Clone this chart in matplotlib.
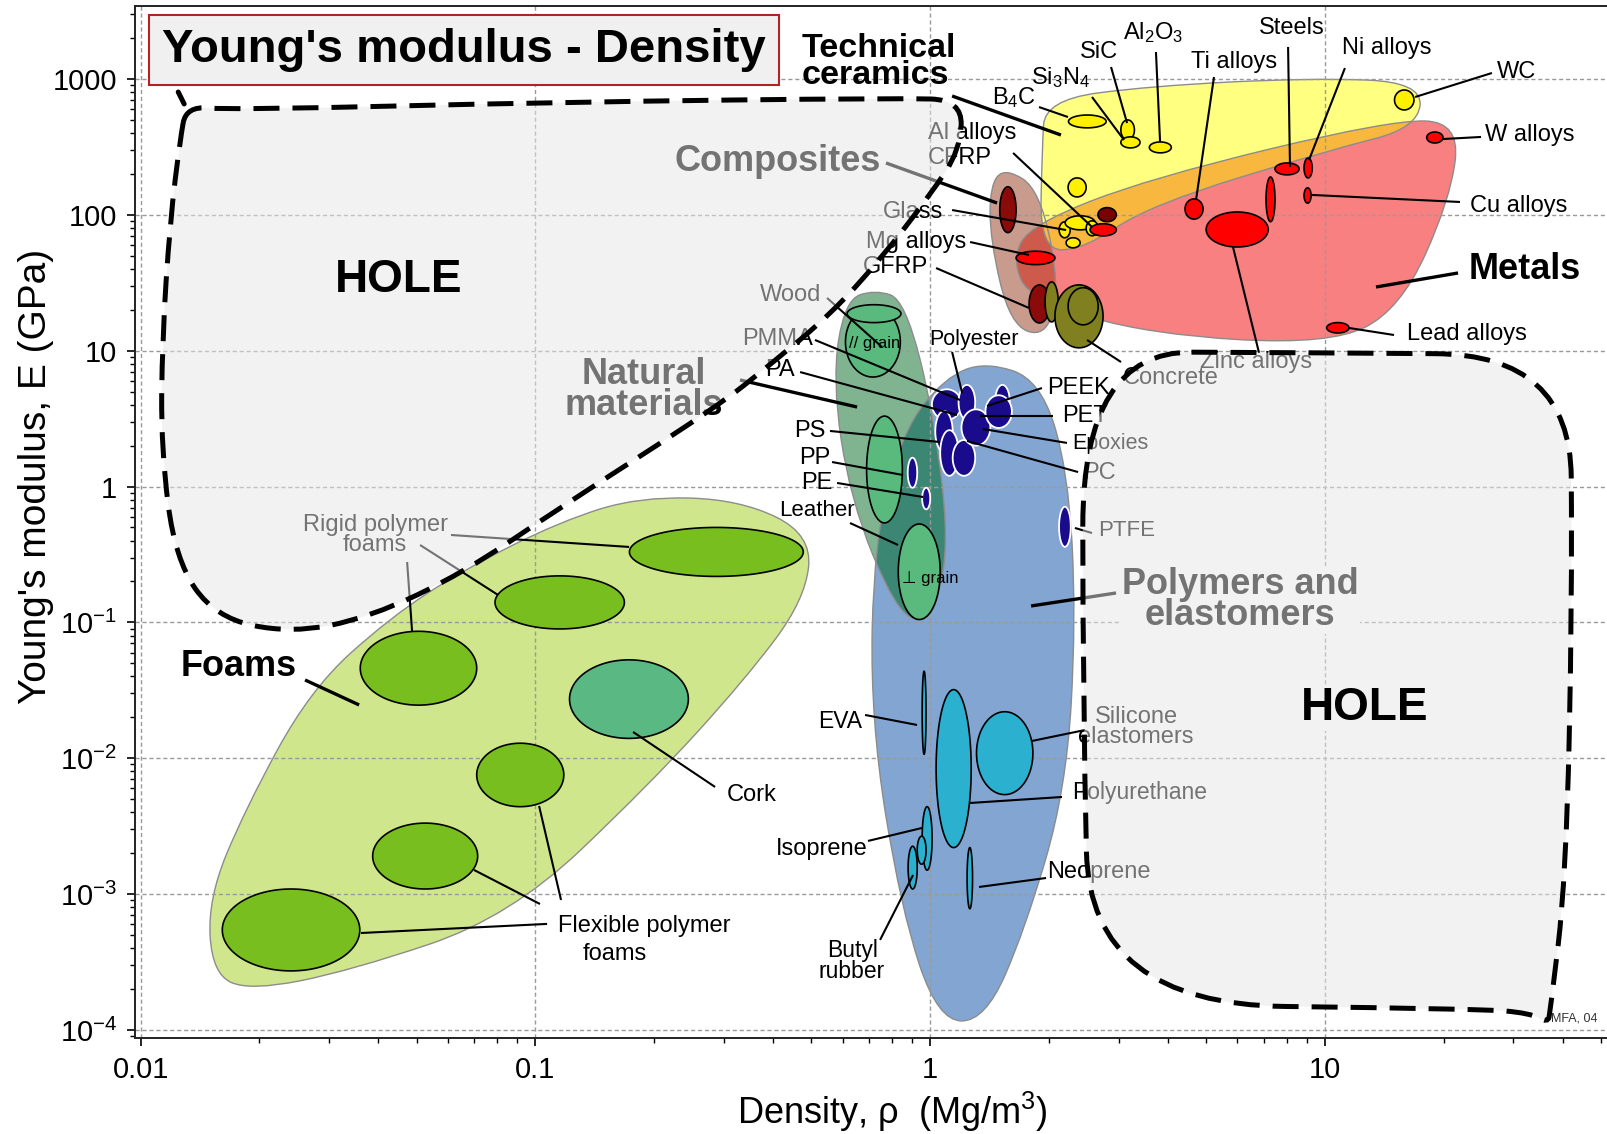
import numpy as np
import matplotlib
matplotlib.use('Agg')
import matplotlib.pyplot as plt
from matplotlib.path import Path
from matplotlib.patches import PathPatch
from matplotlib.ticker import NullFormatter

plt.rcParams['font.family'] = ['Liberation Sans', 'DejaVu Sans']
plt.rcParams['mathtext.fontset'] = 'custom'
plt.rcParams['mathtext.rm'] = 'Liberation Sans'
plt.rcParams['mathtext.it'] = 'Liberation Sans:italic'
plt.rcParams['mathtext.bf'] = 'Liberation Sans:bold'

# ---------------- material property ranges: density (Mg/m3), modulus (GPa) ----------------
foam_names = ['Rigid foam (dense)', 'Rigid foam (medium)', 'Rigid foam (light)', 'Cork',
              'Flexible foam (dense)', 'Flexible foam (medium)', 'Flexible foam (light)']
foam_rho = [(0.173, 0.477), (0.079, 0.168), (0.036, 0.071), (0.122, 0.244),
            (0.071, 0.118), (0.0387, 0.0714), (0.0161, 0.0359)]
foam_E = [(0.218, 0.50), (0.0895, 0.22), (0.0246, 0.086), (0.014, 0.053),
          (0.0044, 0.0129), (0.00109, 0.00333), (0.000272, 0.00109)]

natural_names = ['Wood // grain', 'Wood perp. grain', 'Leather']
natural_rho = [(0.61, 0.84), (0.69, 0.85), (0.83, 1.06)]
natural_E = [(6.4, 21.0), (0.54, 3.3), (0.105, 0.53)]
wood_cap_rho = (0.616, 0.843)
wood_cap_E = (16.1, 21.8)

polymer_names = ['PMMA', 'PA', 'PS', 'PC', 'Polyester', 'Epoxies', 'PEEK', 'PET', 'PP', 'PE', 'PTFE']
polymer_rho = [(1.01, 1.20), (1.03, 1.14), (1.06, 1.18), (1.14, 1.30), (1.18, 1.30), (1.20, 1.42),
               (1.46, 1.59), (1.38, 1.61), (0.877, 0.927), (0.954, 1.0), (2.12, 2.27)]
polymer_E = [(3.1, 5.2), (1.8, 3.6), (1.2, 2.6), (1.2, 2.2), (3.1, 5.6), (2.0, 3.7),
             (3.2, 5.6), (2.7, 4.7), (0.98, 1.63), (0.68, 0.98), (0.36, 0.71)]

elastomer_names = ['EVA', 'Polyurethane', 'Silicone elastomers', 'Isoprene', 'Natural rubber',
                   'Butyl rubber', 'Neoprene']
elastomer_rho = [(0.954, 0.976), (1.035, 1.27), (1.31, 1.82), (0.954, 1.011), (0.927, 0.976),
                 (0.879, 0.927), (1.24, 1.28)]
elastomer_E = [(0.0107, 0.0437), (0.0022, 0.032), (0.0054, 0.022), (0.0015, 0.0044),
               (0.00166, 0.00267), (0.00109, 0.00225), (0.00078, 0.0022)]

composite_names = ['CFRP', 'GFRP']
composite_rho = [(1.50, 1.65), (1.78, 2.01)]
composite_E = [(74, 161), (16, 30.5)]

concrete_rho = [(1.954, 2.109), (2.07, 2.74), (2.235, 2.663)]
concrete_E = [(16.3, 32.1), (10.5, 30.5), (15.5, 29.1)]

ceramic_names = ['B4C', 'SiC', 'Si3N4', 'Al2O3', 'WC', 'Glass ceramic',
                 'Silica glass', 'Soda glass', 'Borosilicate glass', 'Glass']
ceramic_rho = [(2.24, 2.79), (3.04, 3.29), (3.04, 3.40), (3.59, 4.08), (15.0, 16.8), (2.235, 2.483),
               (2.121, 2.262), (2.197, 2.617), (2.483, 2.663), (2.209, 2.397)]
ceramic_E = [(437, 543), (356, 500), (311, 375), (286, 344), (592, 830), (135.5, 187),
             (67.8, 88.8), (77.6, 98.4), (70.2, 90.4), (57.2, 67.8)]

metal_names = ['Mg alloys', 'Al alloys', 'Al matrix composite', 'Ti alloys', 'Zinc alloys',
               'Cast irons', 'Steels', 'Ni alloys', 'Cu alloys', 'W alloys', 'Lead alloys']
metal_rho = [(1.65, 2.07), (2.54, 2.96), (2.66, 2.96), (4.42, 4.91), (5.0, 7.18), (7.09, 7.47),
             (7.47, 8.6), (8.85, 9.28), (8.85, 9.22), (18.1, 19.9), (10.1, 11.5)]
metal_E = [(43, 54), (70, 86), (89, 113), (93, 131), (58, 105), (89, 190),
           (197, 241), (187, 262), (122, 158), (338, 407), (13.5, 16.1)]

# ---------------- family envelopes (outline corner points) ----------------
foam_env_rho = [0.184, 0.330, 0.502, 0.482, 0.340, 0.195, 0.0863, 0.0339, 0.0189, 0.0152,
                0.0148, 0.0184, 0.0269, 0.0429, 0.066, 0.1155]
foam_env_E = [0.844, 0.802, 0.443, 0.1476, 0.0381, 0.00644, 0.000678, 0.000272, 0.000194,
              0.000258, 0.000918, 0.00422, 0.0321, 0.109, 0.2455, 0.553]

natural_env_rho = [0.725, 0.864, 1.029, 1.123, 0.971, 0.815, 0.627, 0.5645, 0.6087]
natural_env_E = [28.1, 23.7, 3.11, 0.290, 0.0967, 0.1248, 0.802, 6.12, 23.7]

polymer_env_rho = [1.091, 1.377, 1.898, 2.235, 2.342, 2.21, 1.740, 1.377, 1.047, 0.843, 0.705,
                   0.721, 0.855]
polymer_env_E = [6.33, 8.30, 6.12, 1.334, 0.1052, 0.00592, 0.000553, 0.0001164, 0.0001164,
                 0.000776, 0.01936, 0.4076, 2.624]

composite_env_rho = [1.548, 1.898, 2.133, 1.954, 1.594, 1.418, 1.418]
composite_env_E = [222, 152.8, 28.1, 12.47, 15.52, 65.5, 166.4]

ceramic_env_rho = [1.954, 3.606, 9.17, 17.62, 17.21, 10.30, 3.606, 2.435, 1.898, 1.920]
ceramic_env_E = [701, 888, 1017, 950, 437, 301, 118.4, 55.3, 55.3, 301]

metal_env_rho = [1.791, 3.606, 14.62, 21.99, 20.75, 15.50, 10.30, 3.606, 1.791, 1.612]
metal_env_E = [84.4, 187.2, 499, 483, 128.8, 20.02, 11.07, 13.12, 23.7, 46.7]

hole1_rho = [0.01304, 0.01685, 0.1155, 0.839, 1.205, 1.191, 0.999, 0.7466, 0.5578, 0.393,
             0.2885, 0.1135, 0.066, 0.03815, 0.02391, 0.01544, 0.01223, 0.01127, 0.01134,
             0.01188, 0.01259]
hole1_E = [633, 591, 677, 724, 701, 301, 140, 46.7, 18.4, 7.89, 3.87, 0.678, 0.2333, 0.1089,
           0.0830, 0.1089, 0.2904, 1.871, 12.05, 91.8, 356]

hole2_rho = [8.65, 41.8, 42.3, 40.8, 37.2, 36.7, 33.1, 24.7, 2.54, 2.435, 2.435]
hole2_E = [9.67, 9.35, 0.1476, 0.00129, 0.000138, 0.0001125, 0.000133, 0.000143, 0.000155,
           0.0272, 9.84]

x_ticks = [0.01, 0.1, 1, 10]
x_ticklabels = ['0.01', '0.1', '1', '10']
y_ticks = [1e-4, 1e-3, 1e-2, 1e-1, 1, 10, 100, 1000]
y_ticklabels = ['$10^{-4}$', '$10^{-3}$', '$10^{-2}$', '$10^{-1}$', '1', '10', '100', '1000']

EDGE = '#8c8c8c'


def smooth_path(rho, E):
    # closed outline, quadratic curves through the edge midpoints (midpoints in log space)
    p = np.column_stack([rho, E]).astype(float)
    mid = np.sqrt(p * np.roll(p, -1, axis=0))
    verts = [mid[-1]]
    codes = [Path.MOVETO]
    for i in range(len(p)):
        verts += [p[i], mid[i]]
        codes += [Path.CURVE3, Path.CURVE3]
    verts.append(mid[-1])
    codes.append(Path.CLOSEPOLY)
    return Path(verts, codes)


def envelope(ax, rho, E, color, z):
    patch = PathPatch(smooth_path(rho, E), facecolor=color, edgecolor='none', zorder=z)
    ax.add_patch(patch)
    return patch


def env_edge(ax, rho, E):
    ax.add_patch(PathPatch(smooth_path(rho, E), facecolor='none', edgecolor=EDGE,
                           linewidth=1.0, zorder=1.4))


def bubble(ax, rho, E, fc, ec='black', lw=1.2, z=2.0):
    # ellipse spanning the density and modulus range on log axes
    t = np.linspace(0, 2 * np.pi, 160)
    cx, cy = np.sqrt(rho[0] * rho[1]), np.sqrt(E[0] * E[1])
    sx, sy = np.sqrt(rho[1] / rho[0]), np.sqrt(E[1] / E[0])
    ax.fill(cx * sx ** np.cos(t), cy * sy ** np.sin(t), facecolor=fc, edgecolor=ec,
            linewidth=lw, zorder=z)


fig = plt.figure(figsize=(16.08, 11.34), dpi=100)
ax = fig.add_axes([0.084, 0.0847, 0.916, 0.910])
ax.set_xscale('log')
ax.set_yscale('log')
ax.set_xlim(0.00968, 52.1)
ax.set_ylim(8.73e-5, 3446)

# ---------------- envelopes ----------------
envelope(ax, foam_env_rho, foam_env_E, '#d0e68c', 1.0)
env_edge(ax, foam_env_rho, foam_env_E)

poly_env = envelope(ax, polymer_env_rho, polymer_env_E, '#82a5d2', 1.0)
envelope(ax, natural_env_rho, natural_env_E, '#80b491', 1.1)
nat_over = PathPatch(smooth_path(natural_env_rho, natural_env_E), facecolor='#3c8773',
                     edgecolor='none', zorder=1.2)
ax.add_patch(nat_over)
nat_over.set_clip_path(poly_env)
env_edge(ax, polymer_env_rho, polymer_env_E)
env_edge(ax, natural_env_rho, natural_env_E)

envelope(ax, composite_env_rho, composite_env_E, '#c89b8c', 1.0)
met_env = envelope(ax, metal_env_rho, metal_env_E, '#f88080', 1.1)
cer_env = envelope(ax, ceramic_env_rho, ceramic_env_E, '#ffff80', 1.15)
comp_over = PathPatch(smooth_path(composite_env_rho, composite_env_E), facecolor='#cd5a4b',
                      edgecolor='none', zorder=1.2)
ax.add_patch(comp_over)
comp_over.set_clip_path(met_env)
met_over = PathPatch(smooth_path(metal_env_rho, metal_env_E), facecolor='#f8b840',
                     edgecolor='none', zorder=1.25)
ax.add_patch(met_over)
met_over.set_clip_path(cer_env)
env_edge(ax, composite_env_rho, composite_env_E)
env_edge(ax, metal_env_rho, metal_env_E)
env_edge(ax, ceramic_env_rho, ceramic_env_E)

# ---------------- material bubbles ----------------
for name, r, e in zip(foam_names, foam_rho, foam_E):
    bubble(ax, r, e, '#5ab982' if name == 'Cork' else '#78be1e')

for r, e in zip(natural_rho, natural_E):
    bubble(ax, r, e, '#5aba7d')
bubble(ax, wood_cap_rho, wood_cap_E, '#5aba7d')

for r, e in zip(polymer_rho, polymer_E):
    bubble(ax, r, e, '#1a0a8c', ec='white', lw=1.3, z=2.2)

for r, e in zip(elastomer_rho, elastomer_E):
    bubble(ax, r, e, '#2bb0cf')

for r, e in zip(composite_rho, composite_E):
    bubble(ax, r, e, '#8b0a0a')
for r, e in zip(concrete_rho, concrete_E):
    bubble(ax, r, e, '#808020')

for r, e in zip(ceramic_rho, ceramic_E):
    bubble(ax, r, e, '#fff000')

for name, r, e in zip(metal_names, metal_rho, metal_E):
    bubble(ax, r, e, '#7a0000' if name == 'Al matrix composite' else '#ff0000', z=2.3)

# ---------------- labels and leader lines (axes fractions) ----------------
leaders = [
    ((0.1154, 0.3469), (0.1521, 0.3227), 2.4), ((0.2145, 0.4874), (0.3354, 0.4758), 1.5),
    ((0.1935, 0.4777), (0.2464, 0.4293), 1.5), ((0.1847, 0.4612), (0.1881, 0.3934), 1.5),
    ((0.3938, 0.2432), (0.3381, 0.2965), 1.5), ((0.2797, 0.1105), (0.1534, 0.1017), 1.5),
    ((0.2749, 0.1298), (0.2301, 0.1628), 1.5), ((0.2892, 0.1337), (0.2743, 0.2248), 1.5),
    ((0.4107, 0.6376), (0.4902, 0.6114), 2.4), ((0.4698, 0.7171), (0.5071, 0.6696), 1.5),
    ((0.4854, 0.4990), (0.5180, 0.4777), 1.5), ((0.4616, 0.6764), (0.5601, 0.6182), 1.5),
    ((0.4515, 0.6453), (0.5580, 0.6037), 1.5), ((0.5547, 0.6647), (0.5615, 0.6250), 1.5),
    ((0.6157, 0.6298), (0.5784, 0.6124), 1.5), ((0.6232, 0.6027), (0.5736, 0.6027), 1.5),
    ((0.6327, 0.5766), (0.5757, 0.5901), 1.5), ((0.6402, 0.5484), (0.5648, 0.5785), 1.5),
    ((0.4718, 0.5882), (0.5465, 0.5775), 1.5), ((0.4732, 0.5581), (0.5214, 0.5455), 1.5),
    ((0.4766, 0.5378), (0.5350, 0.5242), 1.5), ((0.6381, 0.4942), (0.6497, 0.4893), 1.5),
    ((0.6660, 0.4312), (0.6083, 0.4186), 2.4), ((0.4956, 0.3130), (0.5309, 0.3033), 1.5),
    ((0.4976, 0.1909), (0.5343, 0.2035), 1.5), ((0.5058, 0.0950), (0.5282, 0.1579), 1.5),
    ((0.6090, 0.2878), (0.6449, 0.2984), 1.5), ((0.5669, 0.2277), (0.6293, 0.2335), 1.5),
    ((0.5730, 0.1463), (0.6185, 0.1550), 1.5), ((0.5098, 0.8479), (0.5852, 0.8091), 2.4),
    ((0.5961, 0.8576), (0.6497, 0.7859), 1.5), ((0.5547, 0.8023), (0.6321, 0.7829), 1.5),
    ((0.5669, 0.7713), (0.6069, 0.7587), 1.5), ((0.5438, 0.7461), (0.6069, 0.7074), 1.5),
    ((0.6694, 0.6550), (0.6463, 0.6764), 1.5), ((0.5547, 0.9128), (0.6286, 0.8750), 2.4),
    ((0.6137, 0.9021), (0.6334, 0.8924), 1.5), ((0.6497, 0.9118), (0.6714, 0.8702), 1.5),
    ((0.6626, 0.9409), (0.6735, 0.8866), 1.5), ((0.6931, 0.9554), (0.6959, 0.8682), 1.5),
    ((0.7325, 0.9312), (0.7203, 0.8120), 1.5), ((0.7828, 0.9603), (0.7841, 0.8440), 1.5),
    ((0.8214, 0.9399), (0.7970, 0.8508), 1.5), ((0.9212, 0.9351), (0.8690, 0.9118), 1.5),
    ((0.9138, 0.8731), (0.8880, 0.8711), 1.5), ((0.8995, 0.8101), (0.7991, 0.8169), 1.5),
    ((0.8982, 0.7413), (0.8425, 0.7277), 2.4), ((0.8547, 0.6812), (0.8242, 0.6880), 1.5),
    ((0.7454, 0.7665), (0.7631, 0.6638), 1.5),
]
for (x0, y0), (x1, y1), lw in leaders:
    ax.plot([x0, x1], [y0, y1], color='black', lw=lw, transform=ax.transAxes, zorder=4,
            solid_capstyle='butt')

# group names
groups = [
    ('Foams', 0.0706, 0.3595, 'center'),
    ('Natural\nmaterials', 0.3456, 0.6279, 'center'),
    ('Composites', 0.4365, 0.8498, 'center'),
    ('Metals', 0.9437, 0.7442, 'center'),
    ('Polymers and\nelastomers', 0.7502, 0.4244, 'center'),
]
for txt, x, y, ha in groups:
    ax.text(x, y, txt, transform=ax.transAxes, fontsize=26, fontweight='bold', ha=ha,
            va='center', linespacing=0.85, zorder=5,
            bbox=dict(facecolor='white', edgecolor='none', pad=1))
ax.text(0.4528, 0.9457, 'Technical\nceramics', transform=ax.transAxes, fontsize=24.5,
        fontweight='bold', ha='left', va='center', linespacing=0.8, zorder=5)

# material names
names = [
    ('Rigid polymer\nfoams', 0.1629, 0.4874, 17), ('Cork', 0.4189, 0.2355, 17),
    ('Flexible polymer', 0.3456, 0.1085, 17), ('foams', 0.3259, 0.0814, 17),
    ('Wood', 0.4447, 0.7200, 17), ('Leather', 0.4630, 0.5116, 16),
    ('PMMA', 0.4365, 0.6773, 17), ('PA', 0.4379, 0.6473, 17), ('PS', 0.4582, 0.5882, 17),
    ('PP', 0.4616, 0.5620, 17), ('PE', 0.4630, 0.5378, 17), ('Polyester', 0.5696, 0.6764, 15.5),
    ('PEEK', 0.6402, 0.6298, 17), ('PET', 0.6449, 0.6027, 17), ('Epoxies', 0.6619, 0.5756, 15.5),
    ('PC', 0.6544, 0.5475, 17), ('PTFE', 0.6735, 0.4922, 16),
    ('EVA', 0.4786, 0.3062, 16.5), ('Isoprene', 0.4664, 0.1831, 17),
    ('Butyl\nrubber', 0.4868, 0.0746, 16.5), ('Silicone\nelastomers', 0.6796, 0.3014, 17),
    ('Concrete', 0.7033, 0.6395, 17), ('Al alloys', 0.5682, 0.8769, 17),
    ('CFRP', 0.5601, 0.8527, 17), ('Glass', 0.5282, 0.8004, 17), ('Mg alloys', 0.5302, 0.7713, 17),
    ('GFRP', 0.5160, 0.7471, 17), ('B$_4$C', 0.5967, 0.9109, 17),
    ('Si$_3$N$_4$', 0.6280, 0.9302, 17), ('SiC', 0.6544, 0.9554, 17),
    ('Al$_2$O$_3$', 0.6911, 0.9738, 17), ('Ti alloys', 0.7461, 0.9457, 17),
    ('Steels', 0.7855, 0.9787, 17), ('Ni alloys', 0.8500, 0.9593, 17), ('WC', 0.9382, 0.9360, 17),
    ('W alloys', 0.9470, 0.8750, 17), ('Cu alloys', 0.9396, 0.8062, 17),
    ('Lead alloys', 0.9043, 0.6822, 17), ('Zinc alloys', 0.7610, 0.6550, 17),
    ('// grain', 0.5024, 0.6734, 12), ('\u22a5 grain', 0.5397, 0.4457, 12),
]
for txt, x, y, size in names:
    ax.text(x, y, txt, transform=ax.transAxes, fontsize=size, ha='center', va='center',
            linespacing=0.85, zorder=5)
ax.text(0.6361, 0.2374, 'Polyurethane', transform=ax.transAxes, fontsize=16.5, ha='left',
        va='center', zorder=5)
ax.text(0.6191, 0.1609, 'Neoprene', transform=ax.transAxes, fontsize=17, ha='left',
        va='center', zorder=5)

# ---------------- holes: translucent fill over the labels, dashed outline ----------------
for rho, E in [(hole1_rho, hole1_E), (hole2_rho, hole2_E)]:
    ax.add_patch(PathPatch(smooth_path(rho, E), facecolor=(0.9, 0.9, 0.9, 0.5),
                           edgecolor='none', zorder=6))
    ax.add_patch(PathPatch(smooth_path(rho, E), facecolor='none', edgecolor='black',
                           linewidth=3.6, linestyle=(0, (5.2, 2.6)), zorder=7))
ax.plot([0.01245, 0.01289], [802, 655], color='black', lw=3.6, zorder=7,
        solid_capstyle='round')

for x, y in [(0.1792, 0.7345), (0.8350, 0.3198)]:
    ax.text(x, y, 'HOLE', transform=ax.transAxes, fontsize=33, fontweight='bold',
            ha='center', va='center', zorder=8,
            bbox=dict(facecolor='#f2f2f2', edgecolor='none', pad=1))

ax.text(0.2234, 0.9574, "Young's modulus - Density", transform=ax.transAxes, fontsize=34,
        fontweight='bold', ha='center', va='center', zorder=8,
        bbox=dict(boxstyle='square,pad=0.28', facecolor='#f0f0f0', edgecolor='#b22222', lw=1.5))
ax.text(0.9769, 0.0184, 'MFA, 04', transform=ax.transAxes, fontsize=9, color='#333333',
        ha='center', va='center', zorder=8)

# ---------------- axes ----------------
ax.set_axisbelow('line')
ax.grid(True, which='major', color='#9a9a9a', linestyle=(0, (3, 2)), linewidth=1.0)
ax.set_xticks(x_ticks)
ax.set_xticklabels(x_ticklabels)
ax.set_yticks(y_ticks)
ax.set_yticklabels(y_ticklabels)
ax.xaxis.set_minor_formatter(NullFormatter())
ax.yaxis.set_minor_formatter(NullFormatter())
ax.tick_params(which='major', direction='out', length=6, width=1.2, labelsize=21, pad=7)
ax.tick_params(which='minor', direction='out', length=3.5, width=1.0)
ax.tick_params(top=False, right=False)
ax.spines['right'].set_visible(False)
for s in ['left', 'bottom', 'top']:
    ax.spines[s].set_linewidth(1.4)
    ax.spines[s].set_color('#222222')

ax.set_ylabel("Young's modulus, E (GPa)", fontsize=28)
ax.yaxis.set_label_coords(-0.055, 0.544)
ax.set_xlabel('Density, \u03c1  (Mg/m$^3$)', fontsize=26)
ax.xaxis.set_label_coords(0.514, -0.050)

fig.savefig('out.png', dpi=100)
